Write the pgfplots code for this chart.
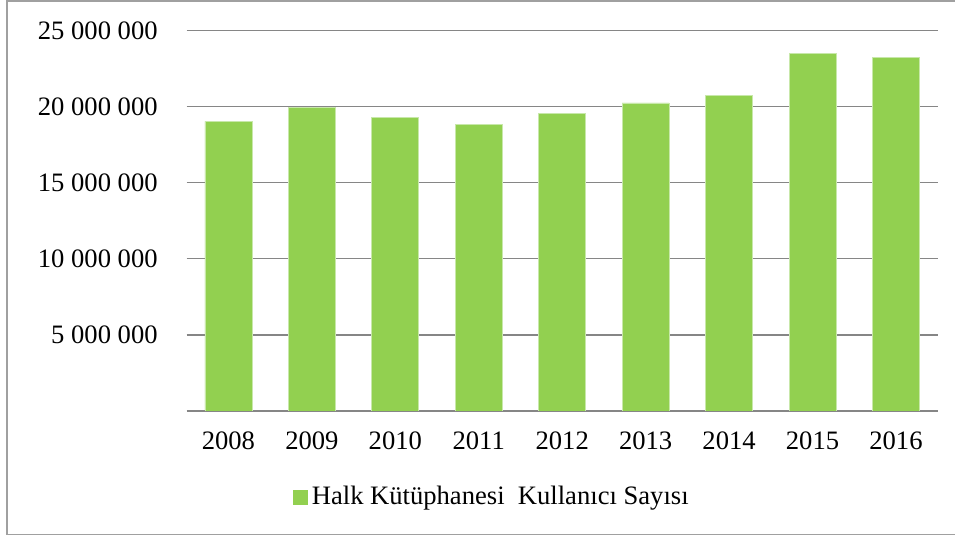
\documentclass[border=0pt]{standalone}
\usepackage{pgfplots}
\pgfplotsset{compat=1.18}
\usepackage{fontspec}
\setmainfont{Liberation Serif}
\definecolor{bargreen}{RGB}{146,208,80}
\definecolor{baredge}{RGB}{200,232,170}
\definecolor{gridgray}{RGB}{134,134,134}
\definecolor{framegray}{RGB}{160,160,160}
\begin{document}
\begin{tikzpicture}
\useasboundingbox (0,0) rectangle (477.5pt,269.5pt);
\draw[framegray, line width=0.7pt] (482pt,268.9pt) -- (3.5pt,268.9pt) -- (3.5pt,2.35pt) -- (482pt,2.35pt);
\begin{axis}[
  at={(93.35pt,64pt)}, anchor=south west,
  scale only axis, width=375.5pt, height=190.15pt,
  xmin=-0.5, xmax=8.5, ymin=0, ymax=25000000,
  scaled y ticks=false,
  axis x line*=bottom, axis y line*=left,
  y axis line style={draw=none},
  x axis line style={gridgray, line width=0.6pt, -},
  ytick={5000000,10000000,15000000,20000000,25000000},
  yticklabels={5 000 000,10 000 000,15 000 000,20 000 000,25 000 000},
  ymajorgrids, grid style={gridgray, line width=0.6pt},
  major tick length=0pt,
  xtick={0,1,2,3,4,5,6,7,8},
  xticklabels={2008,2009,2010,2011,2012,2013,2014,2015,2016},
  tick label style={font=\fontsize{13.3}{15}\selectfont},
  yticklabel style={xshift=-11pt},
  xticklabel style={yshift=-7pt},
  ybar, bar width=23.5pt,
  legend style={draw=none, fill=none, at={(0.1411,-0.2261)}, anchor=west,
    inner sep=0pt, font=\fontsize{13.3}{15}\selectfont},
  legend image code/.code={\fill[bargreen] (0pt,-3.5pt) rectangle (7pt,3.5pt);},
]
\addplot[fill=bargreen, draw=baredge, line width=0.4pt] coordinates {
  (0,19040000) (1,19940000) (2,19310000) (3,18850000) (4,19540000)
  (5,20250000) (6,20770000) (7,23530000) (8,23270000)
};
\addlegendentry{Halk Kütüphanesi\ \ Kullanıcı Sayısı}
\end{axis}
\end{tikzpicture}
\end{document}
